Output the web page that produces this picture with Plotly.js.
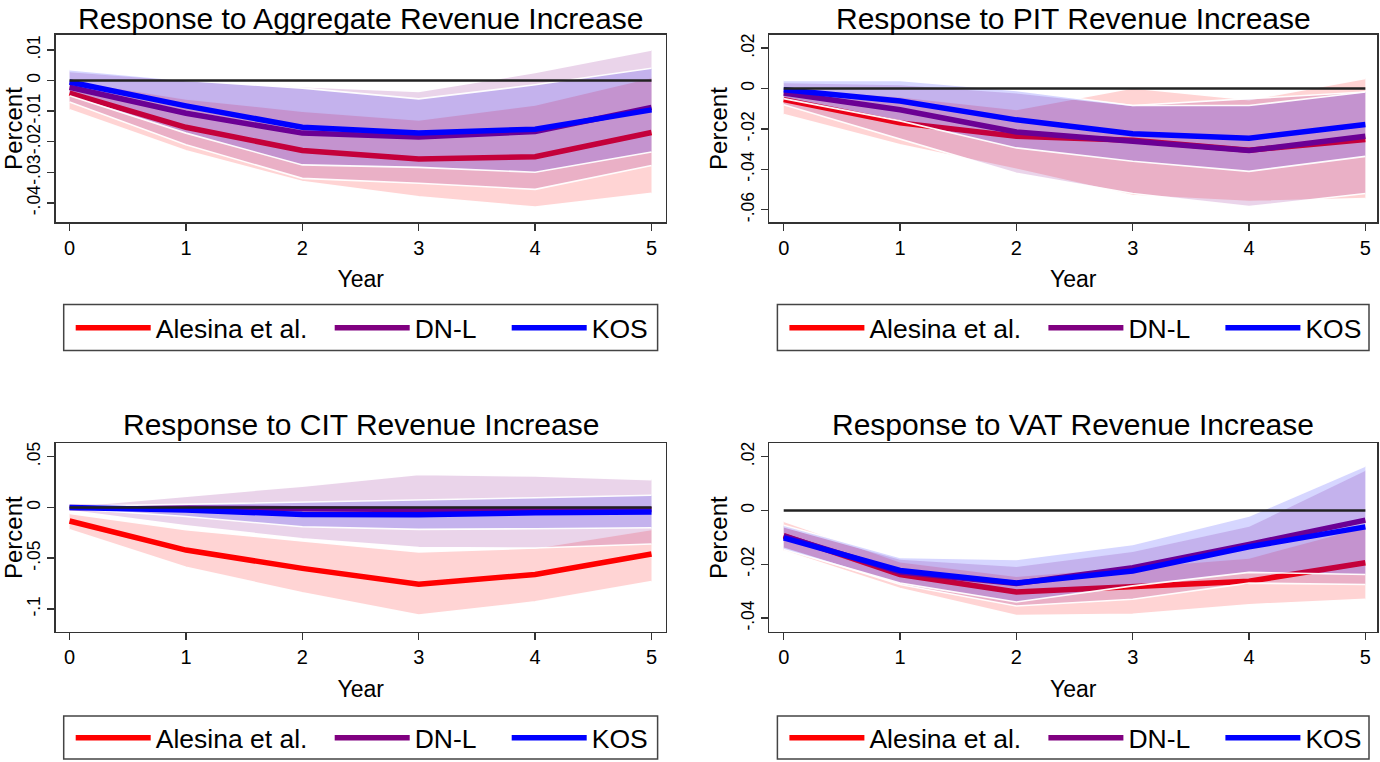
<!DOCTYPE html>
<html>
<head>
<meta charset="utf-8">
<script src="https://cdn.plot.ly/plotly-3.0.1.min.js"></script>
<style>html,body{margin:0;padding:0;background:#fff;}#chart{width:1380px;height:762px;}</style>
</head>
<body>
<div id="chart"></div>
<script>
// ---------- DATA ----------
const years = [0, 1, 2, 3, 4, 5];
const seriesNames = ['Alesina et al.', 'DN-L', 'KOS'];
const panelTitles = [
  'Response to Aggregate Revenue Increase',
  'Response to PIT Revenue Increase',
  'Response to CIT Revenue Increase',
  'Response to VAT Revenue Increase'
];

// Aggregate
const aggAlesina   = [-0.0041, -0.0153, -0.0229, -0.0257, -0.0249, -0.0170];
const aggAlesinaLo = [-0.0096, -0.0230, -0.0330, -0.0380, -0.0414, -0.0369];
const aggAlesinaHi = [ 0.0000, -0.0060, -0.0100, -0.0129, -0.0080,  0.0010];
const aggDNL       = [-0.0022, -0.0107, -0.0172, -0.0185, -0.0167, -0.0088];
const aggDNLLo     = [-0.0070, -0.0210, -0.0320, -0.0336, -0.0356, -0.0278];
const aggDNLHi     = [ 0.0030,  0.0000, -0.0020, -0.0036,  0.0026,  0.0100];
const aggKOS       = [-0.0005, -0.0083, -0.0153, -0.0172, -0.0159, -0.0096];
const aggKOSLo     = [-0.0050, -0.0172, -0.0276, -0.0284, -0.0300, -0.0234];
const aggKOSHi     = [ 0.0035,  0.0000, -0.0025, -0.0060, -0.0014,  0.0040];

// PIT
const pitAlesina   = [-0.0055, -0.0170, -0.0236, -0.0256, -0.0305, -0.0252];
const pitAlesinaLo = [-0.0129, -0.0278, -0.0400, -0.0530, -0.0560, -0.0545];
const pitAlesinaHi = [ 0.0000, -0.0040, -0.0104,  0.0003, -0.0055,  0.0050];
const pitDNL       = [-0.0022, -0.0105, -0.0215, -0.0264, -0.0307, -0.0236];
const pitDNLLo     = [-0.0080, -0.0250, -0.0420, -0.0520, -0.0585, -0.0520];
const pitDNLHi     = [ 0.0030,  0.0020, -0.0020, -0.0084, -0.0050, -0.0017];
const pitKOS       = [-0.0006, -0.0062, -0.0155, -0.0224, -0.0246, -0.0178];
const pitKOSLo     = [-0.0050, -0.0160, -0.0294, -0.0360, -0.0410, -0.0336];
const pitKOSHi     = [ 0.0040,  0.0040, -0.0010, -0.0084, -0.0084, -0.0017];

// CIT
const citAlesina   = [-0.0134, -0.0420, -0.0600, -0.0755, -0.0660, -0.0458];
const citAlesinaLo = [-0.0220, -0.0590, -0.0840, -0.1060, -0.0930, -0.0730];
const citAlesinaHi = [-0.0060, -0.0220, -0.0330, -0.0438, -0.0400, -0.0216];
const citDNL       = [ 0.0000, -0.0010, -0.0020, -0.0020, -0.0020, -0.0020];
const citDNLLo     = [-0.0030, -0.0180, -0.0310, -0.0395, -0.0400, -0.0360];
const citDNLHi     = [ 0.0010,  0.0110,  0.0210,  0.0324,  0.0310,  0.0274];
const citKOS       = [ 0.0000, -0.0026, -0.0069, -0.0072, -0.0052, -0.0046];
const citKOSLo     = [-0.0010, -0.0090, -0.0190, -0.0216, -0.0210, -0.0200];
const citKOSHi     = [ 0.0010,  0.0030,  0.0050,  0.0069,  0.0095,  0.0120];

// VAT
const vatAlesina   = [-0.0093, -0.0238, -0.0303, -0.0281, -0.0263, -0.0194];
const vatAlesinaLo = [-0.0150, -0.0290, -0.0390, -0.0386, -0.0350, -0.0330];
const vatAlesinaHi = [-0.0040, -0.0190, -0.0244, -0.0210, -0.0176, -0.0060];
const vatDNL       = [-0.0095, -0.0229, -0.0271, -0.0213, -0.0126, -0.0036];
const vatDNLLo     = [-0.0140, -0.0275, -0.0355, -0.0330, -0.0270, -0.0275];
const vatDNLHi     = [-0.0060, -0.0180, -0.0207, -0.0151, -0.0058,  0.0150];
const vatKOS       = [-0.0102, -0.0223, -0.0269, -0.0225, -0.0135, -0.0061];
const vatKOSLo     = [-0.0145, -0.0270, -0.0340, -0.0280, -0.0230, -0.0238];
const vatKOSHi     = [-0.0055, -0.0175, -0.0182, -0.0126, -0.0021,  0.0165];

// Y tick labels per panel
const aggTickVals = [0.01, 0, -0.01, -0.02, -0.03, -0.04];
const aggTickText = ['.01', '0', '-.01', '-.02', '-.03', '-.04'];
const pitTickVals = [0.02, 0, -0.02, -0.04, -0.06];
const pitTickText = ['.02', '0', '-.02', '-.04', '-.06'];
const citTickVals = [0.05, 0, -0.05, -0.1];
const citTickText = ['.05', '0', '-.05', '-.1'];
const vatTickVals = [0.02, 0, -0.02, -0.04];
const vatTickText = ['.02', '0', '-.02', '-.04'];

// ---------- STYLE ----------
const lineColors = ['#ff0000', '#800080', '#0000ff'];
const bandColors = ['rgba(255,0,0,0.17)', 'rgba(128,0,128,0.17)', 'rgba(0,0,255,0.16)'];
const FONT = 'Liberation Sans, Arial, Helvetica, sans-serif';
const W = 1380, H = 762;
const px = v => v / W;
const py = v => 1 - v / H;

const panels = [
  { est: [aggAlesina, aggDNL, aggKOS], lo: [aggAlesinaLo, aggDNLLo, aggKOSLo], hi: [aggAlesinaHi, aggDNLHi, aggKOSHi],
    tv: aggTickVals, tt: aggTickText, yr: [-0.0464, 0.0150] },
  { est: [pitAlesina, pitDNL, pitKOS], lo: [pitAlesinaLo, pitDNLLo, pitKOSLo], hi: [pitAlesinaHi, pitDNLHi, pitKOSHi],
    tv: pitTickVals, tt: pitTickText, yr: [-0.0663, 0.0267] },
  { est: [citAlesina, citDNL, citKOS], lo: [citAlesinaLo, citDNLLo, citKOSLo], hi: [citAlesinaHi, citDNLHi, citKOSHi],
    tv: citTickVals, tt: citTickText, yr: [-0.1225, 0.0630] },
  { est: [vatAlesina, vatDNL, vatKOS], lo: [vatAlesinaLo, vatDNLLo, vatKOSLo], hi: [vatAlesinaHi, vatDNLHi, vatKOSHi],
    tv: vatTickVals, tt: vatTickText, yr: [-0.0451, 0.0249] }
];

// pixel geometry of each panel: plot frame, x range, legend box, title top
const geom = [
  { l: 55.7,  r: 665.6, t: 34.7, b: 222.7, xr: [-0.119, 5.121], legTop: 305, legBot: 351, titleTop: 0 },
  { l: 769.4, r: 1377,  t: 34.7, b: 222.7, xr: [-0.123, 5.100], legTop: 305, legBot: 351, titleTop: 0 },
  { l: 55.7,  r: 665.6, t: 444,  b: 632.7, xr: [-0.119, 5.121], legTop: 717, legBot: 760, titleTop: 407 },
  { l: 769.4, r: 1377,  t: 444,  b: 632.7, xr: [-0.123, 5.100], legTop: 717, legBot: 760, titleTop: 407 }
];
const legendOffsets = [15, 274, 451];

const traces = [];
const layout = {
  width: W, height: H,
  margin: { l: 0, r: 0, t: 0, b: 0 },
  paper_bgcolor: '#fff', plot_bgcolor: '#fff',
  font: { family: FONT, color: '#000' },
  showlegend: true,
  shapes: [], annotations: []
};

panels.forEach((p, i) => {
  const n = i + 1;
  const xa = n === 1 ? 'x' : 'x' + n;
  const ya = n === 1 ? 'y' : 'y' + n;
  const g = geom[i];
  for (let s = 0; s < 3; s++) {
    const k = i * 3 + s + 1;
    const legId = k === 1 ? 'legend' : 'legend' + k;
    traces.push({ x: years, y: p.lo[s], xaxis: xa, yaxis: ya, mode: 'lines', type: 'scatter',
      line: { color: 'rgba(255,255,255,0.95)', width: 1.6 }, showlegend: false, hoverinfo: 'skip' });
    traces.push({ x: years, y: p.hi[s], xaxis: xa, yaxis: ya, mode: 'lines', type: 'scatter', fill: 'tonexty',
      fillcolor: bandColors[s], line: { color: 'rgba(255,255,255,0.95)', width: 1.6 }, showlegend: false, hoverinfo: 'skip' });
    traces.push({ x: years, y: p.est[s], xaxis: xa, yaxis: ya, mode: 'lines', type: 'scatter', name: seriesNames[s],
      line: { color: lineColors[s], width: 5.5 }, legend: legId, showlegend: true });
    layout[legId] = {
      orientation: 'h', x: px(g.l + legendOffsets[s]), xanchor: 'left',
      y: py((g.legTop + g.legBot) / 2), yanchor: 'middle',
      font: { size: 26.5, family: FONT }, bgcolor: 'rgba(0,0,0,0)', borderwidth: 0,
      itemwidth: 75, itemclick: false, itemdoubleclick: false
    };
  }
  layout['xaxis' + (n === 1 ? '' : n)] = {
    domain: [px(g.l), px(g.r)], anchor: ya, range: g.xr,
    tickvals: years, ticks: 'outside', ticklen: 7, tickwidth: 1.5, tickcolor: '#333',
    showline: true, mirror: true, linecolor: '#333', linewidth: 1.5,
    showgrid: false, zeroline: false, fixedrange: true,
    tickfont: { size: 20, family: FONT },
    title: { text: 'Year', font: { size: 23, family: FONT }, standoff: 13 }
  };
  layout['yaxis' + (n === 1 ? '' : n)] = {
    domain: [py(g.b), py(g.t)], anchor: xa, range: p.yr,
    tickvals: p.tv, ticktext: p.tt, tickangle: -90,
    ticks: 'outside', ticklen: 7, tickwidth: 1.5, tickcolor: '#333',
    showline: true, mirror: true, linecolor: '#333', linewidth: 1.5,
    showgrid: false, zeroline: false, fixedrange: true,
    tickfont: { size: 17.5, family: FONT },
    title: { text: 'Percent', font: { size: 24, family: FONT }, standoff: 3 }
  };
  // zero reference line
  layout.shapes.push({ type: 'line', xref: xa, yref: ya, x0: years[0], x1: years[years.length - 1], y0: 0, y1: 0,
    line: { color: '#222', width: 2.5 }, layer: 'above' });
  // legend frame
  layout.shapes.push({ type: 'rect', xref: 'paper', yref: 'paper', x0: px(g.l + 8), x1: px(g.r - 8),
    y0: py(g.legBot), y1: py(g.legTop), line: { color: '#444', width: 1.5 }, fillcolor: 'rgba(0,0,0,0)' });
  // panel title
  layout.annotations.push({ text: panelTitles[i], xref: 'paper', yref: 'paper',
    x: px((g.l + g.r) / 2), y: py(g.titleTop), xanchor: 'center', yanchor: 'top', showarrow: false,
    font: { size: 30, family: FONT } });
});

Plotly.newPlot('chart', traces, layout, { displayModeBar: false, staticPlot: true });
</script>
</body>
</html>
